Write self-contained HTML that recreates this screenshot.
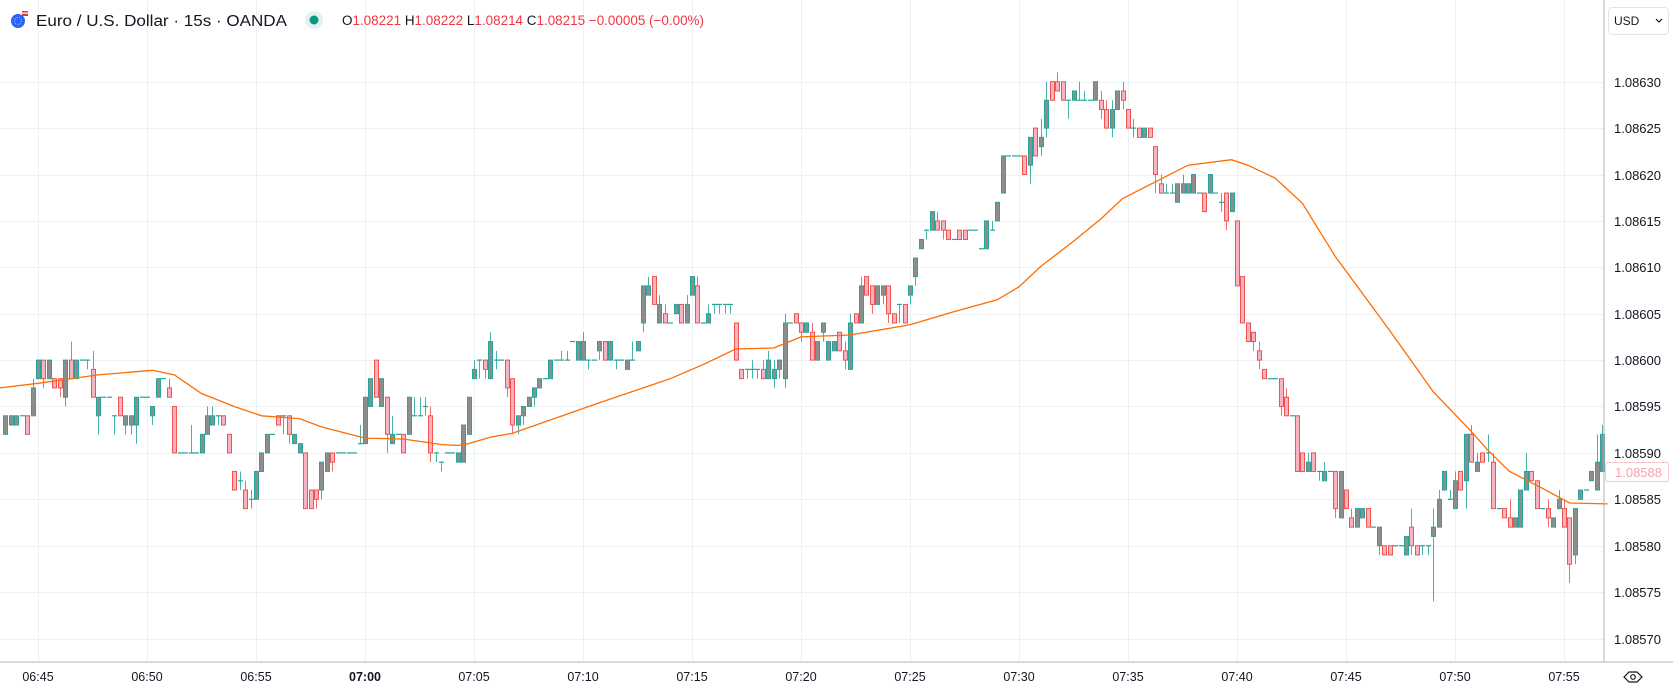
<!DOCTYPE html>
<html><head><meta charset="utf-8"><title>EURUSD 15s</title>
<style>
html,body{margin:0;padding:0;background:#fff;}
svg{display:block;font-family:"Liberation Sans",sans-serif;}
</style></head>
<body>
<svg id="chart" width="1673" height="693" viewBox="0 0 1673 693" xmlns="http://www.w3.org/2000/svg">
<rect x="0" y="0" width="1673" height="693" fill="#ffffff"/>
<g id="grid"></g>
<g id="candles"></g>
<polyline id="ma" fill="none" stroke="#ff6d00" stroke-width="1.3"/>
<line x1="1604" y1="0" x2="1604" y2="662" stroke="#b2b5be" stroke-width="1"/>
<line x1="0" y1="662" x2="1673" y2="662" stroke="#b2b5be" stroke-width="1"/>
<g id="ylabels"></g>
<g id="xlabels"></g>
<g>
  <g>
    <circle cx="18" cy="21" r="7" fill="#2962ff"/>
    <circle cx="18" cy="21" r="3.5" fill="none" stroke="#ffd600" stroke-width="1" stroke-dasharray="1 1.5"/>
    <rect x="22" y="11" width="6" height="5" fill="#e53935"/>
    <rect x="22" y="12.5" width="6" height="1.2" fill="#fff"/>
  </g>
  <text x="36" y="26" font-size="15.5" fill="#131722" textLength="251" lengthAdjust="spacingAndGlyphs">Euro / U.S. Dollar · 15s · OANDA</text>
  <circle cx="314" cy="20" r="9" fill="#e3f2ef"/>
  <circle cx="314" cy="20" r="4.5" fill="#089981"/>
  <text x="342" y="25" font-size="13.5" fill="#f23645" textLength="362" lengthAdjust="spacingAndGlyphs"><tspan fill="#131722">O</tspan>1.08221 <tspan fill="#131722">H</tspan>1.08222 <tspan fill="#131722">L</tspan>1.08214 <tspan fill="#131722">C</tspan>1.08215 −0.00005 (−0.00%)</text>
</g>
<g>
  <rect x="1608.5" y="7.5" width="60" height="27" rx="4" fill="#fff" stroke="#e0e3eb"/>
  <text x="1614" y="25" font-size="12" fill="#131722">USD</text>
  <path d="M1656 19 l3 3 l3 -3" fill="none" stroke="#131722" stroke-width="1.2"/>
</g>
<g>
  <rect x="1605.5" y="462.5" width="63" height="19" rx="2" fill="#fff" stroke="#f8c8d0"/>
  <text x="1615" y="477" font-size="13" fill="#f7a1b0">1.08588</text>
</g>
<g>
  <path d="M1624 677 l5 -5 h8 l5 5 l-5 5 h-8 z" fill="none" stroke="#131722" stroke-width="1.2"/>
  <circle cx="1633" cy="677" r="2.3" fill="none" stroke="#131722" stroke-width="1.2"/>
</g>
</svg>
<script>
var firstT = -6;
var opens = [592,593,593,594,594,594,598,600,598,598,
598,596,600,598,600,600,599,594,596,596,
594,596,593,593,593,596,596,594,596,598,
597,595,590,590,590,590,590,592,593,594,
594,592,588,587,586,585,585,588,590,592,
594,594,594,591,590,590,586,586,586,588,
590,590,590,590,590,591,591,595,600,595,
596,591,592,592,592,594,594,595,594,590,
589,590,590,589,589,592,598,600,600,598,
600,600,600,598,593,594,595,596,597,598,
598,600,600,600,602,600,600,600,600,601,
602,600,600,600,599,600,601,604,607,609,
604,605,604,605,606,604,607,608,604,604,
606,606,606,606,604,599,599,599,599,599,
598,598,599,598,604,605,604,603,603,600,
603,600,601,603,601,599,605,604,609,608,
606,607,608,605,606,606,607,609,612,614,
614,615,615,614,613,614,614,614,614,612,
612,614,615,618,622,622,622,622,621,625,
623,625,630,630,630,628,628,628,628,628,
628,628,627,625,627,629,627,625,625,624,
625,623,619,618,618,617,618,618,618,618,
618,618,618,617,618,616,615,609,604,603,
601,599,598,598,598,596,594,594,590,588,
590,588,587,588,588,583,586,583,582,583,
584,582,580,580,580,580,580,579,582,580,
580,580,581,582,586,585,584,588,587,592,
588,590,590,589,584,584,583,582,582,586,
588,587,584,584,582,584,584,583,579,585,
586,587,586,588];
var highs = [594,594,594,594,594,598,600,600,600,598,
598,600,602,600,600,600,601,596,596,596,
594,596,594,594,596,596,596,595,598,598,
598,595,590,590,593,590,592,595,595,594,
594,592,588,588,587,586,588,590,592,592,
594,594,594,592,591,590,586,586,589,590,
590,590,590,590,590,593,596,598,600,598,
596,594,592,592,596,596,596,596,595,590,
589,590,590,590,593,596,600,600,600,603,
601,600,600,598,594,595,596,597,598,598,
600,600,601,601,602,602,603,600,600,602,
602,602,600,600,600,602,602,608,609,609,
607,606,604,606,606,607,609,609,604,606,
606,606,606,606,604,599,599,600,599,600,
601,600,600,605,604,605,604,604,604,602,
604,602,602,603,602,605,605,609,609,608,
608,608,608,605,606,606,608,611,613,614,
616,616,615,614,613,614,614,614,614,612,
615,615,617,622,622,622,622,622,624,625,
626,630,630,631,630,628,629,630,629,628,
630,629,628,628,629,630,627,626,625,625,
625,623,620,619,619,619,620,619,620,618,
618,620,618,618,618,618,615,609,604,603,
602,599,598,598,598,597,594,594,590,590,
590,588,589,588,588,588,586,584,584,584,
584,582,582,580,580,580,580,581,584,580,
580,580,584,586,588,586,588,588,592,593,
590,590,592,590,584,584,585,583,586,590,
588,587,584,585,583,586,585,583,584,586,
586,588,592,593];
var lows = [592,593,593,594,592,594,598,597,598,597,
596,595,598,598,600,599,596,592,596,596,
592,594,592,592,591,596,596,593,596,598,
596,590,590,590,590,590,590,592,593,593,
593,590,586,586,584,584,585,588,590,592,
593,592,591,591,590,584,584,584,585,588,
588,590,590,590,590,591,591,595,596,595,
590,591,592,590,592,594,594,594,589,589,
588,590,590,589,589,592,598,598,598,598,
599,600,596,592,592,593,595,595,597,598,
598,600,600,600,602,600,600,599,600,600,
600,600,599,600,599,600,601,603,607,606,
604,604,604,605,604,604,607,604,604,604,
605,605,605,605,600,598,598,598,598,598,
598,597,598,597,604,604,602,603,600,600,
602,600,601,601,599,599,604,604,607,605,
606,606,604,604,604,604,606,608,612,613,
614,614,613,613,613,613,613,614,614,612,
612,614,615,618,622,622,622,620,619,622,
622,624,628,629,628,626,628,628,628,628,
628,626,625,624,627,627,625,624,624,624,
624,618,618,618,618,617,618,618,618,618,
616,618,618,616,614,616,608,604,602,601,
599,598,598,598,594,594,594,588,588,588,
588,587,587,588,583,583,584,582,582,583,
582,582,579,579,579,580,580,579,579,579,
579,579,574,582,586,585,584,586,584,589,
588,589,589,584,584,583,582,582,582,586,
587,584,584,582,582,584,582,576,578,585,
586,587,586,588];
var closes = [594,594,594,594,592,597,600,598,600,597,
597,600,598,600,600,600,596,596,596,596,
594,594,594,594,596,596,596,595,598,598,
596,590,590,590,590,590,592,594,594,594,
593,590,586,587,584,585,588,590,592,592,
593,594,592,592,591,584,584,585,589,590,
589,590,590,590,590,591,596,598,596,598,
592,592,592,590,596,594,594,595,590,590,
589,590,590,590,593,596,599,600,599,602,
600,600,597,593,594,595,596,597,598,598,
600,600,600,600,602,602,602,600,600,602,
600,602,600,600,600,600,602,608,608,606,
606,604,604,606,604,606,609,604,604,605,
606,606,606,606,600,598,599,599,599,598,
600,599,600,604,604,604,603,604,600,602,
604,602,602,601,600,604,604,608,607,606,
608,608,605,604,606,604,608,611,613,614,
616,614,614,613,613,613,613,614,614,612,
615,614,617,622,622,622,622,620,624,622,
624,628,628,629,628,628,629,628,628,628,
630,627,625,627,629,628,625,625,624,625,
624,620,618,618,618,619,619,619,620,618,
616,620,618,617,615,618,608,604,602,602,
600,598,598,598,595,594,594,588,588,589,
588,588,588,588,584,588,584,582,584,584,
582,582,582,579,579,580,580,581,580,579,
580,580,582,585,588,585,587,586,592,589,
589,589,590,584,584,583,582,583,586,588,
587,584,584,583,583,585,582,578,584,586,
586,588,589,592];
var maT = [-7,0,11,21,25,30,36,41,48,52,60,67,74,77,79,83,87,103,116,122,128,135,140,149,160,168,176,180,184,190,195,199,205,211,219,222,227,232,238,248,256,263,266,270,276,281,288];
var maV = [597.0,597.5,598.4,598.9,598.4,596.4,595.0,594.0,593.7,592.8,591.6,591.5,590.9,590.8,591.0,591.7,592.1,595.4,598.0,599.5,601.2,601.3,602.5,602.7,603.8,605.2,606.5,607.9,610.1,612.8,615.2,617.4,619.2,621.0,621.6,621.0,619.6,616.9,611.2,603.2,596.6,592.3,590.3,588.0,586.2,584.6,584.5];
var priceTicks = [570,575,580,585,590,595,600,605,610,615,620,625,630];
var timeTicks = ["06:45","06:50","06:55","07:00","07:05","07:10","07:15","07:20","07:25","07:30","07:35","07:40","07:45","07:50","07:55"];
var boldTick = "07:00";

var NS = "http://www.w3.org/2000/svg";
function yOf(p){ return 81.7 + (630 - p) * 9.28; }
function xOf(t){ return 38 + t * 5.45; }
function mk(tag, attrs, parent){
  var e = document.createElementNS(NS, tag);
  for (var k in attrs) e.setAttribute(k, attrs[k]);
  parent.appendChild(e);
  return e;
}

var grid = document.getElementById('grid');
for (var i = 0; i < timeTicks.length; i++) {
  var gx = Math.round(xOf(i * 20)) + 0.5;
  var vl = mk('line', {x1: gx, y1: 0, x2: gx, y2: 662, stroke: '#edf0f5', 'stroke-width': 1}, grid);
  
  
}
var ylab = document.getElementById('ylabels');
for (var j = 0; j < priceTicks.length; j++) {
  var gy = Math.round(yOf(priceTicks[j])) + 0.5;
  var hl = mk('line', {x1: 0, y1: gy, x2: 1604, y2: gy, stroke: '#edf0f5', 'stroke-width': 1}, grid);
  
  
  var tl = mk('text', {x: 1614, y: gy + 4.5, 'font-size': 13, fill: '#131722'}, ylab);
  tl.textContent = (1.08 + priceTicks[j] / 100000).toFixed(5);
  
  
}
var xlab = document.getElementById('xlabels');
for (var m = 0; m < timeTicks.length; m++) {
  var xt = mk('text', {x: xOf(m * 20), y: 681, 'font-size': 12.5, fill: '#131722', 'text-anchor': 'middle'}, xlab);
  if (timeTicks[m] === boldTick) xt.setAttribute('font-weight', 'bold');
  xt.textContent = timeTicks[m];
  
  
}

var cg = document.getElementById('candles');
var n = Math.min(opens.length, highs.length, lows.length, closes.length);
for (var c = 0; c < n; c++) {
  var t = firstT + c;
  var cx = Math.round(xOf(t)) + 0.5;
  var o = opens[c], h = highs[c], l = lows[c], cl = closes[c];
  var up = cl >= o;
  var g = mk('g', {}, cg);
  
  
  if (h > Math.max(o, cl) || l < Math.min(o, cl)) {
    var w = mk('line', {x1: cx, y1: yOf(h), x2: cx, y2: yOf(l), stroke: up ? '#26a69a' : '#ef5350', 'stroke-width': 1, 'stroke-opacity': 0.85}, g);
    
    
  }
  if (o === cl) {
    var d = mk('line', {x1: cx - 2.5, y1: yOf(o), x2: cx + 2.5, y2: yOf(o), stroke: '#26a69a', 'stroke-width': 1.2}, g);
    
    
  } else {
    var bodyTop = yOf(Math.max(o, cl)), bodyBot = yOf(Math.min(o, cl));
    var bd = mk('rect', {x: cx - 2, y: bodyTop, width: 4, height: Math.max(1, bodyBot - bodyTop), fill: up ? '#8a8f8e' : '#f7b3bf', stroke: up ? '#26a69a' : '#ef5350', 'stroke-width': 1}, g);
    
    
  }
}

var pts = [];
for (var q = 0; q < maT.length; q++) pts.push(xOf(maT[q]).toFixed(1) + ',' + yOf(maV[q]).toFixed(1));
document.getElementById('ma').setAttribute('points', pts.join(' '));
</script>
</body></html>
